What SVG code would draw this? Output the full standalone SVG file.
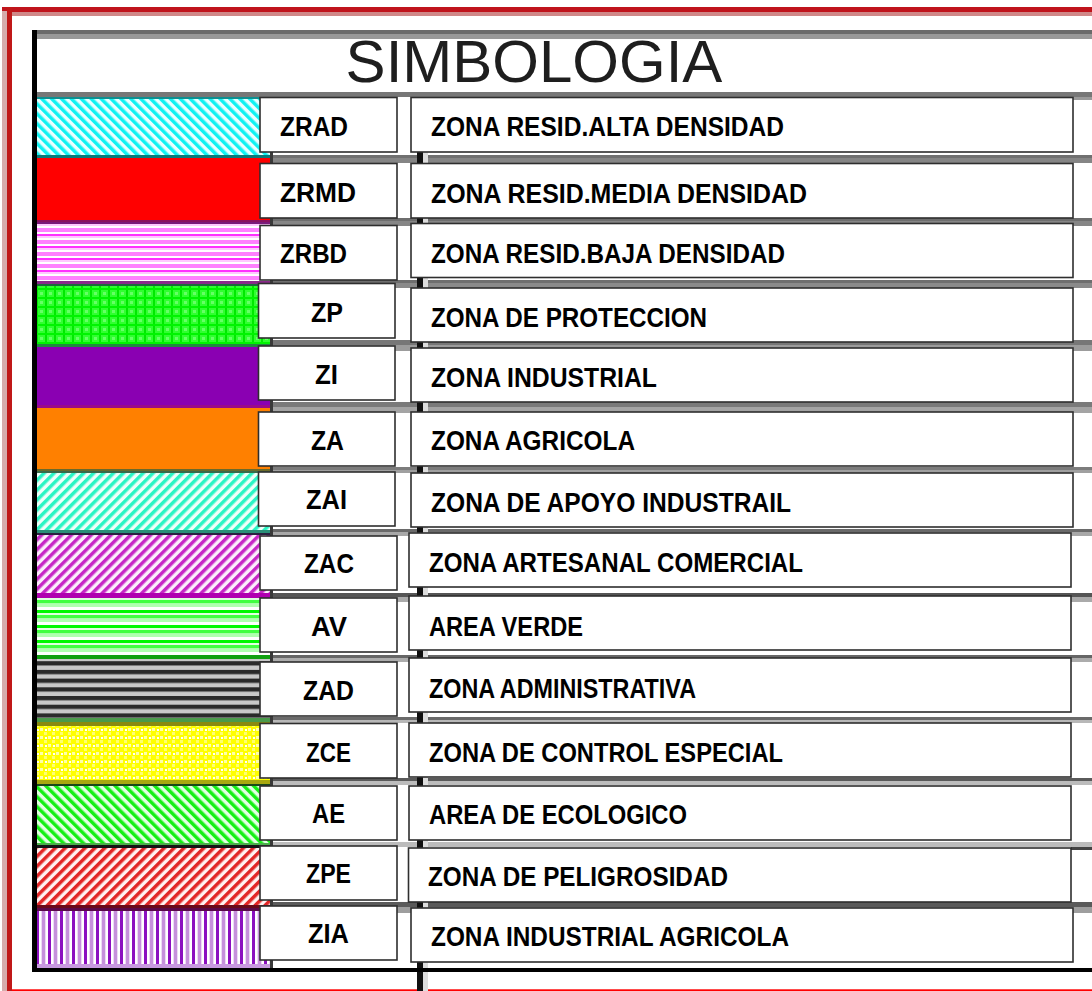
<svg xmlns="http://www.w3.org/2000/svg" width="1092" height="991" viewBox="0 0 1092 991">
<style>
.box{fill:#fff;stroke:#2e2e2e;stroke-width:1.6}
.lbl{font-family:"Liberation Sans",Arial,sans-serif;font-weight:bold;font-size:27px;fill:#000}
.title{font-family:"Liberation Sans",Arial,sans-serif;font-size:60px;fill:#1e1e1e}
</style>
<defs>
<pattern id="p-zrad" patternUnits="userSpaceOnUse" width="7" height="7" patternTransform="rotate(-45)"><rect width="7" height="7" fill="#eaffff"/><rect width="3.5" height="7" fill="#10f2f2"/></pattern>
<pattern id="p-zrbd" patternUnits="userSpaceOnUse" width="12" height="12"><rect width="12" height="12" fill="#ffffff"/><rect y="0" width="12" height="4" fill="#ff80ff"/><rect y="6" width="12" height="2" fill="#ff30ff"/><rect y="8" width="12" height="2" fill="#ffc8ff"/></pattern>
<pattern id="p-zp" patternUnits="userSpaceOnUse" width="9" height="9"><rect width="9" height="9" fill="#30ff30"/><rect width="2" height="9" fill="#00e800"/><rect width="9" height="2" fill="#00f400"/><rect x="4" y="4" width="3" height="3" fill="#66ff66"/></pattern>
<pattern id="p-zai" patternUnits="userSpaceOnUse" width="7" height="7" patternTransform="rotate(45)"><rect width="7" height="7" fill="#f0fffa"/><rect width="3.5" height="7" fill="#2af5c4"/></pattern>
<pattern id="p-zac" patternUnits="userSpaceOnUse" width="7" height="7" patternTransform="rotate(45)"><rect width="7" height="7" fill="#fbeefb"/><rect width="3.5" height="7" fill="#c626c6"/></pattern>
<pattern id="p-av" patternUnits="userSpaceOnUse" width="15" height="15"><rect width="15" height="15" fill="#ffffff"/><rect y="0" width="15" height="3.5" fill="#40ff40"/><rect y="3.5" width="15" height="3.5" fill="#b0ffb0"/><rect y="10" width="15" height="3" fill="#00f800"/><rect y="13" width="15" height="2" fill="#e0ffe0"/></pattern>
<pattern id="p-zad" patternUnits="userSpaceOnUse" width="8" height="8.7"><rect width="8" height="8.7" fill="#c8c8c8"/><rect width="8" height="4.3" fill="#2a2a2a"/></pattern>
<pattern id="p-zce" patternUnits="userSpaceOnUse" width="8" height="8"><rect width="8" height="8" fill="#ffff00"/><rect width="3" height="3" fill="#ffffa8"/><rect x="4" y="4" width="3" height="3" fill="#ffff70"/><rect x="5" y="1" width="2" height="2" fill="#ffffff"/></pattern>
<pattern id="p-ae" patternUnits="userSpaceOnUse" width="7" height="7" patternTransform="rotate(-45)"><rect width="7" height="7" fill="#e4ffe4"/><rect width="3.5" height="7" fill="#14f014"/></pattern>
<pattern id="p-zpe" patternUnits="userSpaceOnUse" width="7" height="7" patternTransform="rotate(45)"><rect width="7" height="7" fill="#fff2f2"/><rect width="3.5" height="7" fill="#e22626"/></pattern>
<pattern id="p-zia" patternUnits="userSpaceOnUse" width="12" height="12"><rect width="12" height="12" fill="#ecdaf4"/><rect x="0" width="3" height="12" fill="#8c10c0"/><rect x="3" width="2" height="12" fill="#ffffff"/><rect x="6" width="3" height="12" fill="#c690dc"/><rect x="10" width="2" height="12" fill="#ffffff"/></pattern>
</defs>

<g id="frame">
<rect x="2" y="7" width="1090" height="5" fill="#c0141c"/>
<rect x="12" y="12" width="1080" height="4" fill="#d08888"/>
<rect x="2" y="11" width="5" height="980" fill="#d6acac"/>
<rect x="7" y="7" width="5" height="984" fill="#c01818"/>
<rect x="12" y="989.3" width="1080" height="1.7" fill="#ff0000"/>
</g>

<g id="grid">
<rect x="32" y="30" width="1060" height="4" fill="#6a6a6a"/>
<rect x="37" y="34" width="1055" height="5" fill="#989898"/>
<rect x="37" y="92" width="1055" height="5" fill="#777777"/>
<rect x="1073" y="97" width="19" height="3" fill="#9a9a9a"/>
<rect x="270" y="155" width="822" height="3" fill="#707070"/><rect x="270" y="158" width="822" height="5" fill="#858585"/>
<rect x="270" y="218" width="822" height="3" fill="#6e6e6e"/><rect x="270" y="221" width="822" height="5" fill="#868686"/>
<rect x="270" y="280" width="822" height="3" fill="#6e6e6e"/><rect x="270" y="283" width="822" height="5" fill="#8a8a8a"/>
<rect x="270" y="340" width="822" height="5" fill="#777777"/><rect x="270" y="345" width="822" height="6" fill="#9c9c9c"/>
<rect x="270" y="402" width="822" height="5" fill="#7a7a7a"/><rect x="270" y="407" width="822" height="6" fill="#a4a4a4"/>
<rect x="270" y="467" width="822" height="3" fill="#7c7c7c"/><rect x="270" y="470" width="822" height="3" fill="#a0a0a0"/>
<rect x="270" y="529" width="822" height="3" fill="#6a6a6a"/><rect x="270" y="532" width="822" height="4" fill="#a8a8a8"/>
<rect x="270" y="593" width="822" height="4" fill="#555555"/><rect x="270" y="597" width="822" height="5" fill="#aaaaaa"/>
<rect x="270" y="655" width="822" height="3" fill="#666666"/><rect x="270" y="658" width="822" height="4" fill="#acacac"/>
<rect x="270" y="717" width="822" height="3" fill="#6a6a6a"/><rect x="270" y="720" width="822" height="3" fill="#b8b8b8"/>
<rect x="270" y="778" width="822" height="3" fill="#5a5a5a"/><rect x="270" y="781" width="822" height="4" fill="#bcbcbc"/>
<rect x="270" y="842" width="822" height="5" fill="#bcbcbc"/><rect x="1071" y="847" width="21" height="3" fill="#444444"/>
<rect x="270" y="902" width="822" height="5" fill="#5a5a5a"/><rect x="270" y="907" width="822" height="6" fill="#9e9e9e"/>
<rect x="423" y="97" width="5" height="894" fill="#dddddd"/>
<rect x="417" y="97" width="6" height="894" fill="#111111"/>
<rect x="269" y="97" width="4" height="871" fill="#3a3a3a"/>
<rect x="32" y="30" width="5" height="942" fill="#000000"/>
<rect x="32" y="968" width="1060" height="4" fill="#000000"/>
</g>

<g id="title">
<text class="title" x="534" y="82" text-anchor="middle">SIMBOLOGIA</text>
</g>

<g id="row-zrad">
<rect x="37" y="97" width="233" height="60" fill="url(#p-zrad)"/>
<rect x="37" y="97" width="233" height="2" fill="#109090"/>
<rect x="37" y="155" width="233" height="3" fill="#0a7a7a"/>
<rect class="box" x="260" y="97.5" width="137" height="54.5"/>
<rect class="box" x="411" y="97.5" width="662" height="54.5"/>
<text class="lbl" x="280" y="136" textLength="68" lengthAdjust="spacingAndGlyphs">ZRAD</text>
<text class="lbl" x="431" y="136" textLength="353" lengthAdjust="spacingAndGlyphs">ZONA RESID.ALTA DENSIDAD</text>
</g>

<g id="row-zrmd">
<rect x="37" y="158" width="233" height="64" fill="#ff0000"/>
<rect x="37" y="220" width="233" height="2" fill="#8a1060"/>
<rect class="box" x="260" y="163.5" width="137" height="54.5"/>
<rect class="box" x="411" y="163.5" width="662" height="54.5"/>
<text class="lbl" x="280" y="202" textLength="76" lengthAdjust="spacingAndGlyphs">ZRMD</text>
<text class="lbl" x="431" y="202.5" textLength="376" lengthAdjust="spacingAndGlyphs">ZONA RESID.MEDIA DENSIDAD</text>
</g>

<g id="row-zrbd">
<rect x="37" y="222" width="233" height="62" fill="url(#p-zrbd)"/>
<rect x="37" y="222" width="233" height="2" fill="#7a1a7a"/>
<rect x="37" y="281" width="233" height="3" fill="#8a2a8a"/>
<rect class="box" x="260" y="225.5" width="137" height="54.5"/>
<rect class="box" x="411" y="223.5" width="662" height="54"/>
<text class="lbl" x="280" y="263" textLength="67" lengthAdjust="spacingAndGlyphs">ZRBD</text>
<text class="lbl" x="431" y="262.5" textLength="354" lengthAdjust="spacingAndGlyphs">ZONA RESID.BAJA DENSIDAD</text>
</g>

<g id="row-zp">
<rect x="37" y="284" width="233" height="63" fill="url(#p-zp)"/>
<rect x="37" y="284" width="233" height="2" fill="#1a6a3a"/>
<rect x="37" y="344" width="233" height="3" fill="#1f8a3f"/>
<rect class="box" x="258.5" y="283.5" width="136.5" height="54.5"/>
<rect class="box" x="411" y="288" width="662" height="54"/>
<text class="lbl" x="311" y="322" textLength="32" lengthAdjust="spacingAndGlyphs">ZP</text>
<text class="lbl" x="431" y="326.5" textLength="276" lengthAdjust="spacingAndGlyphs">ZONA DE PROTECCION</text>
</g>

<g id="row-zi">
<rect x="37" y="347" width="233" height="61" fill="#8a00b2"/>
<rect x="37" y="405" width="233" height="3" fill="#9a0a8a"/>
<rect class="box" x="258.5" y="346" width="136.5" height="54"/>
<rect class="box" x="411" y="348" width="662" height="54"/>
<text class="lbl" x="315" y="384" textLength="23" lengthAdjust="spacingAndGlyphs">ZI</text>
<text class="lbl" x="431" y="386.5" textLength="226" lengthAdjust="spacingAndGlyphs">ZONA INDUSTRIAL</text>
</g>

<g id="row-za">
<rect x="37" y="408" width="233" height="63" fill="#ff8000"/>
<rect x="37" y="469" width="233" height="2" fill="#6a6a2a"/>
<rect class="box" x="258.5" y="412" width="136.5" height="54"/>
<rect class="box" x="411" y="412" width="662" height="54"/>
<text class="lbl" x="311" y="450" textLength="33" lengthAdjust="spacingAndGlyphs">ZA</text>
<text class="lbl" x="431" y="449.5" textLength="204" lengthAdjust="spacingAndGlyphs">ZONA AGRICOLA</text>
</g>

<g id="row-zai">
<rect x="37" y="471" width="233" height="64" fill="url(#p-zai)"/>
<rect x="37" y="471" width="233" height="2" fill="#3a6a4a"/>
<rect x="37" y="530" width="233" height="3" fill="#2a8f78"/>
<rect x="37" y="533" width="233" height="2" fill="#2a2040"/>
<rect class="box" x="258.5" y="472" width="136.5" height="54"/>
<rect class="box" x="411" y="473" width="662" height="54"/>
<text class="lbl" x="306" y="509" textLength="41" lengthAdjust="spacingAndGlyphs">ZAI</text>
<text class="lbl" x="431" y="511.5" textLength="360" lengthAdjust="spacingAndGlyphs">ZONA DE APOYO INDUSTRAIL</text>
</g>

<g id="row-zac">
<rect x="37" y="535" width="233" height="63" fill="url(#p-zac)"/>
<rect x="37" y="593" width="233" height="5" fill="#b000b0"/>
<rect class="box" x="260" y="536" width="137" height="54"/>
<rect class="box" x="409" y="533" width="662" height="54"/>
<text class="lbl" x="304" y="573" textLength="50" lengthAdjust="spacingAndGlyphs">ZAC</text>
<text class="lbl" x="429" y="571.5" textLength="374" lengthAdjust="spacingAndGlyphs">ZONA ARTESANAL COMERCIAL</text>
</g>

<g id="row-av">
<rect x="37" y="598" width="233" height="61" fill="url(#p-av)"/>
<rect x="37" y="655" width="233" height="4" fill="#10a010"/>
<rect class="box" x="260" y="598" width="137" height="54"/>
<rect class="box" x="409" y="596" width="662" height="54"/>
<text class="lbl" x="311" y="636" textLength="36" lengthAdjust="spacingAndGlyphs">AV</text>
<text class="lbl" x="429" y="635.5" textLength="154" lengthAdjust="spacingAndGlyphs">AREA VERDE</text>
</g>

<g id="row-zad">
<rect x="37" y="659" width="233" height="63" fill="url(#p-zad)"/>
<rect x="37" y="718" width="233" height="4" fill="#4a9a4a"/>
<rect class="box" x="260" y="662" width="137" height="54"/>
<rect class="box" x="409" y="658" width="662" height="54"/>
<text class="lbl" x="303" y="700" textLength="51" lengthAdjust="spacingAndGlyphs">ZAD</text>
<text class="lbl" x="429" y="697.5" textLength="267" lengthAdjust="spacingAndGlyphs">ZONA ADMINISTRATIVA</text>
</g>

<g id="row-zce">
<rect x="37" y="722" width="233" height="64" fill="url(#p-zce)"/>
<rect x="37" y="722" width="233" height="4" fill="#8a8a10"/>
<rect x="37" y="780" width="233" height="4" fill="#a8a810"/>
<rect x="37" y="784" width="233" height="2" fill="#1a4a1a"/>
<rect class="box" x="260" y="723.5" width="137" height="54.5"/>
<rect class="box" x="409" y="723" width="662" height="54"/>
<text class="lbl" x="306" y="762" textLength="45" lengthAdjust="spacingAndGlyphs">ZCE</text>
<text class="lbl" x="429" y="761.5" textLength="354" lengthAdjust="spacingAndGlyphs">ZONA DE CONTROL ESPECIAL</text>
</g>

<g id="row-ae">
<rect x="37" y="786" width="233" height="61" fill="url(#p-ae)"/>
<rect x="37" y="843" width="233" height="2" fill="#4ab04a"/>
<rect x="37" y="845" width="233" height="3" fill="#141414"/>
<rect class="box" x="260" y="786" width="137" height="54"/>
<rect class="box" x="409" y="786" width="662" height="54"/>
<text class="lbl" x="312" y="823" textLength="33" lengthAdjust="spacingAndGlyphs">AE</text>
<text class="lbl" x="429" y="823.5" textLength="258" lengthAdjust="spacingAndGlyphs">AREA DE ECOLOGICO</text>
</g>

<g id="row-zpe">
<rect x="37" y="848" width="233" height="60" fill="url(#p-zpe)"/>
<rect x="37" y="905" width="233" height="3" fill="#6a0a1a"/>
<rect class="box" x="260" y="846" width="137" height="54"/>
<rect class="box" x="408.5" y="848" width="662.5" height="54"/>
<text class="lbl" x="306" y="883" textLength="45" lengthAdjust="spacingAndGlyphs">ZPE</text>
<text class="lbl" x="428" y="886" textLength="300" lengthAdjust="spacingAndGlyphs">ZONA DE PELIGROSIDAD</text>
</g>

<g id="row-zia">
<rect x="37" y="908" width="233" height="60" fill="url(#p-zia)"/>
<rect x="37" y="908" width="233" height="3" fill="#5a0a4a"/>
<rect x="37" y="964" width="233" height="4" fill="#c89ae0"/>
<rect class="box" x="260" y="906" width="137" height="54"/>
<rect class="box" x="411" y="908" width="662" height="54"/>
<text class="lbl" x="308" y="943" textLength="41" lengthAdjust="spacingAndGlyphs">ZIA</text>
<text class="lbl" x="431" y="946" textLength="358" lengthAdjust="spacingAndGlyphs">ZONA INDUSTRIAL AGRICOLA</text>
</g>
</svg>
